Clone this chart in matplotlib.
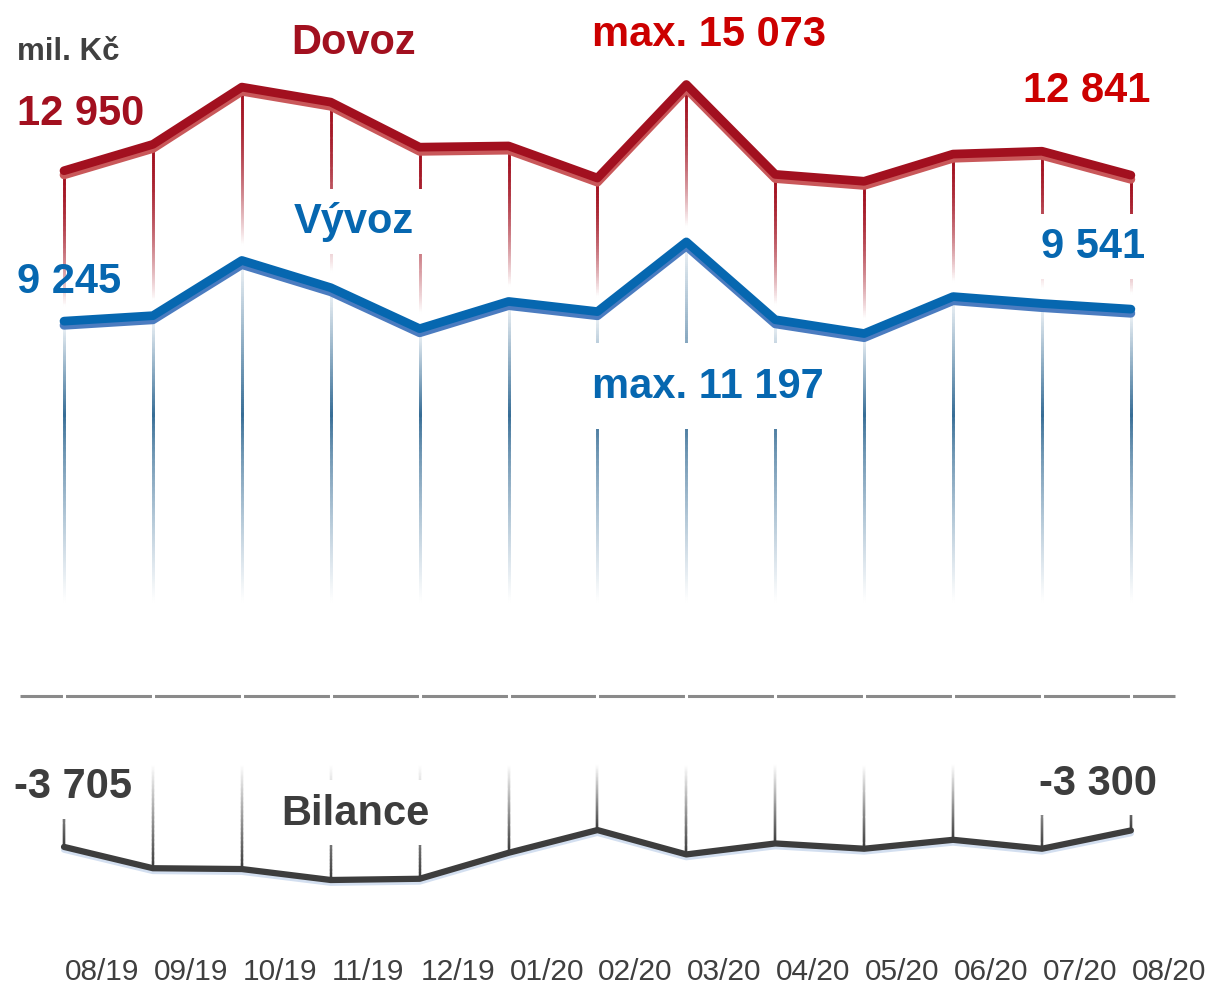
"""Dovoz / Vývoz / Bilance - monthly line chart, mil. Kč."""
import numpy as np
import matplotlib
matplotlib.use('Agg')
import matplotlib.pyplot as plt
import matplotlib.patheffects as pe
from matplotlib.collections import LineCollection
from matplotlib.colors import to_rgb

plt.rcParams['font.family'] = ['Liberation Sans', 'DejaVu Sans']

months = ['08/19', '09/19', '10/19', '11/19', '12/19', '01/20', '02/20',
          '03/20', '04/20', '05/20', '06/20', '07/20', '08/20']
dovoz = [12950, 13600, 15010, 14640, 13530, 13560, 12770,
         15073, 12860, 12690, 13360, 13430, 12841]
vyvoz = [9245, 9380, 10740, 10070, 9060, 9730, 9480,
         11197, 9280, 8940, 9850, 9680, 9541]
bilance = [-3705, -4230, -4250, -4520, -4490, -3850, -3290,
           -3890, -3620, -3750, -3530, -3750, -3300]

RED = '#a2101f'
RED2 = '#cc0000'
BLUE = '#0667b0'
GREY = '#3d3d3d'
STEEL = '#366d96'

x = np.arange(len(months))

fig = plt.figure(figsize=(12.1, 9.87), dpi=100)
ax = fig.add_axes([0, 0, 1, 1])
ax.set_xlim(-0.72, 12.89)
ax.set_ylim(-7131, 17180)
ax.axis('off')


def fade(ax, xi, y0, y1, color, a0, a1, lw=1.6, n=80, power=1.0):
    # vertical line fading between color and white, a0 at y0 -> a1 at y1
    ys = np.linspace(y0, y1, n + 1)
    segs = [[(xi, ys[k]), (xi, ys[k + 1])] for k in range(n)]
    c = np.array(to_rgb(color))
    t = np.linspace(0, 1, n) ** power
    al = a0 + (a1 - a0) * t
    cols = [tuple(1 - a * (1 - c)) for a in al]
    ax.add_collection(LineCollection(segs, colors=cols, linewidths=lw,
                                     zorder=1, capstyle='projecting'))


for i in x:
    # red drop from Dovoz down to Vývoz
    fade(ax, i, dovoz[i], vyvoz[i] + 350, RED, 1.0, 0.0, lw=1.8, power=1.8)
    # steel-blue drop below Vývoz
    fade(ax, i, vyvoz[i] - 150, 6900, STEEL, 0.1, 1.0, lw=1.9)
    fade(ax, i, 6900, 2300, STEEL, 1.0, 0.0, lw=1.9, power=0.8)
    # grey rise above Bilance
    fade(ax, i, -1700, bilance[i], GREY, 0.0, 1.0)

# zero line, broken at each month
ax.plot([-0.495, 12.5], [0, 0], color='#8a8a8a', lw=2.2, zorder=1,
        solid_capstyle='butt')
ax.vlines(x, -250, 250, color='white', lw=2.2, zorder=2)

# series lines with soft shadow underneath
ax.plot(x, dovoz, color=RED, lw=6.3, solid_capstyle='round', zorder=5,
        path_effects=[pe.SimpleLineShadow(offset=(0, -3), shadow_color='#c9585a',
                                          alpha=1), pe.Normal()])
ax.plot(x, vyvoz, color=BLUE, lw=6.3, solid_capstyle='round', zorder=5,
        path_effects=[pe.SimpleLineShadow(offset=(0, -3), shadow_color='#4b7cc0',
                                          alpha=1), pe.Normal()])
ax.plot(x, bilance, color=GREY, lw=4.5, solid_capstyle='round', zorder=5,
        path_effects=[pe.SimpleLineShadow(offset=(0, -2), shadow_color='#d3dff0',
                                          alpha=1), pe.Normal()])

box = dict(boxstyle='square,pad=0.3', fc='white', ec='none')
big = dict(fontsize=30, fontweight='bold', zorder=3)


def fmt(v):
    return f'{v:,}'.replace(',', ' ')


ax.text(-0.53, 15700, 'mil. Kč', color='#404040', fontsize=22.5,
        fontweight='bold', ha='left', va='baseline')
ax.text(3.26, 15850, 'Dovoz', color=RED, ha='center', va='baseline', **big)
ax.text(-0.53, 14100, fmt(dovoz[0]), color=RED, ha='left', va='baseline', **big)
ax.text(7.26, 16050, 'max. ' + fmt(max(dovoz)), color=RED2,
        ha='center', va='baseline', **big)
ax.text(12.22, 14670, fmt(dovoz[-1]), color=RED2, ha='right', va='baseline', **big)

ax.text(3.26, 11440, 'Vývoz', color=BLUE, ha='center', va='baseline',
        bbox=box, **big)
ax.text(-0.53, 9960, fmt(vyvoz[0]), color=BLUE, ha='left', va='baseline', **big)
ax.text(12.16, 10825, fmt(vyvoz[-1]), color=BLUE, ha='right', va='baseline',
        bbox=box, **big)
ax.text(7.24, 7380, 'max. ' + fmt(max(vyvoz)), color=BLUE,
        ha='center', va='baseline',
        bbox=dict(boxstyle='square,pad=0.55', fc='white', ec='none'), **big)

ax.text(-0.56, -2480, fmt(bilance[0]), color=GREY, ha='left', va='baseline',
        bbox=box, **big)
ax.text(3.28, -3140, 'Bilance', color=GREY, ha='center', va='baseline',
        bbox=box, **big)
ax.text(12.29, -2400, fmt(bilance[-1]), color=GREY, ha='right', va='baseline',
        bbox=box, **big)

for i, m in zip(x, months):
    ax.text(i + 0.01, -6950, m, color='#3f3f3f', fontsize=21.5,
            ha='left', va='baseline')

plt.savefig('out.png', dpi=100)
